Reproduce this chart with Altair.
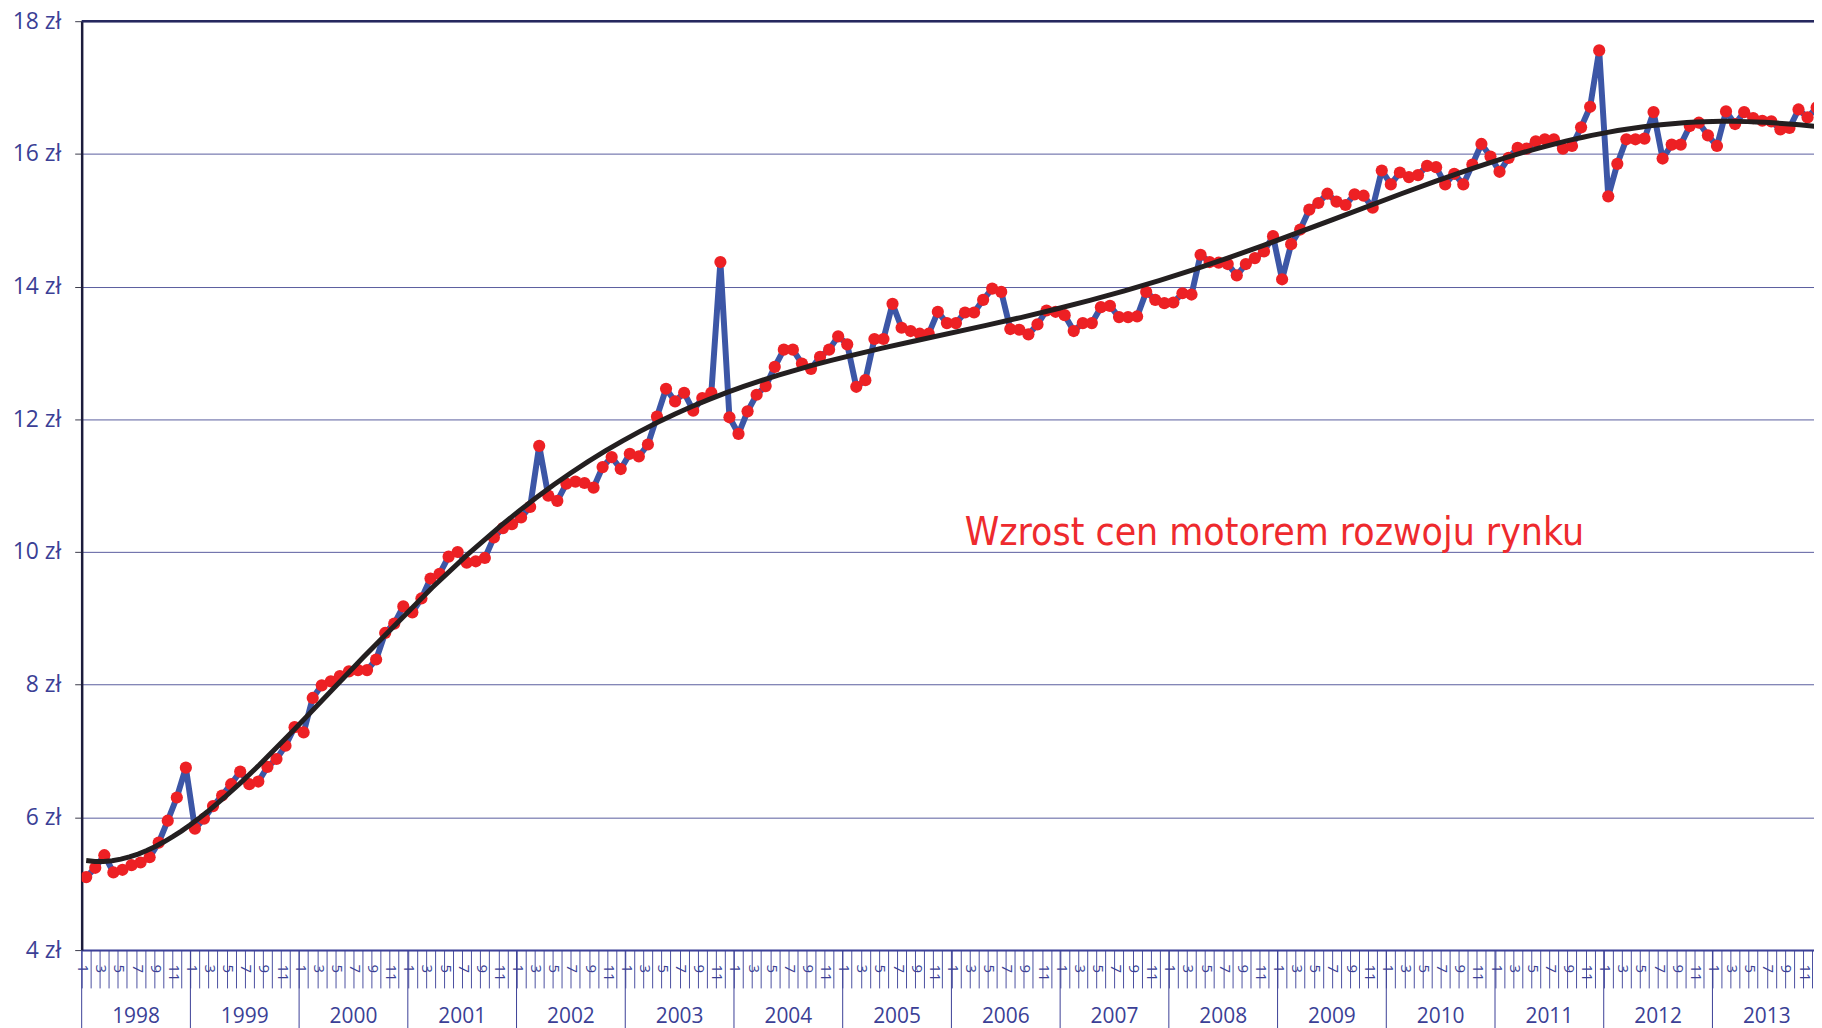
import altair as alt
import pandas as pd

# Monthly average prices (zł), Jan..Dec for each year
years = list(range(1998, 2014))
p1998 = [5.10, 5.24, 5.43, 5.17, 5.21, 5.28, 5.32, 5.40, 5.62, 5.95, 6.30, 6.75]
p1999 = [5.83, 5.98, 6.17, 6.33, 6.50, 6.69, 6.50, 6.54, 6.76, 6.88, 7.08, 7.36]
p2000 = [7.28, 7.80, 7.99, 8.05, 8.13, 8.20, 8.22, 8.22, 8.38, 8.78, 8.92, 9.18]
p2001 = [9.09, 9.30, 9.60, 9.67, 9.93, 10.00, 9.84, 9.86, 9.91, 10.22, 10.36, 10.42]
p2002 = [10.52, 10.68, 11.60, 10.85, 10.77, 11.03, 11.06, 11.04, 10.97, 11.28, 11.43, 11.25]
p2003 = [11.48, 11.44, 11.62, 12.04, 12.46, 12.27, 12.40, 12.13, 12.32, 12.40, 14.37, 12.03]
p2004 = [11.78, 12.12, 12.37, 12.50, 12.79, 13.05, 13.05, 12.84, 12.76, 12.94, 13.05, 13.25]
p2005 = [13.13, 12.49, 12.59, 13.21, 13.21, 13.74, 13.38, 13.33, 13.29, 13.29, 13.62, 13.45]
p2006 = [13.45, 13.61, 13.61, 13.80, 13.97, 13.92, 13.36, 13.35, 13.28, 13.43, 13.64, 13.62]
p2007 = [13.57, 13.33, 13.45, 13.45, 13.69, 13.71, 13.54, 13.54, 13.55, 13.92, 13.80, 13.75]
p2008 = [13.76, 13.90, 13.88, 14.48, 14.37, 14.36, 14.34, 14.17, 14.34, 14.43, 14.53, 14.76]
p2009 = [14.11, 14.64, 14.86, 15.16, 15.26, 15.40, 15.28, 15.23, 15.39, 15.37, 15.19, 15.75]
p2010 = [15.54, 15.72, 15.65, 15.68, 15.82, 15.80, 15.54, 15.70, 15.54, 15.84, 16.15, 15.96]
p2011 = [15.73, 15.94, 16.09, 16.08, 16.19, 16.22, 16.22, 16.08, 16.12, 16.40, 16.71, 17.56]
p2012 = [15.36, 15.85, 16.22, 16.22, 16.23, 16.63, 15.93, 16.14, 16.14, 16.42, 16.47, 16.28]
p2013 = [16.12, 16.64, 16.45, 16.63, 16.54, 16.50, 16.49, 16.37, 16.39, 16.67, 16.55, 16.70]
prices = [p1998, p1999, p2000, p2001, p2002, p2003, p2004, p2005,
          p2006, p2007, p2008, p2009, p2010, p2011, p2012, p2013]

y_ticks = [4, 6, 8, 10, 12, 14, 16, 18]
annotation = "Wzrost cen motorem rozwoju rynku"

rows = []
for yi, vals in enumerate(prices):
    for m, v in enumerate(vals):
        rows.append({"t": yi * 12 + m + 0.5, "price": v})
df = pd.DataFrame(rows)

n_months = 12 * len(years)
month_ticks = list(range(0, n_months))
df_year = pd.DataFrame({
    "t": [12 * k for k in range(len(years))],
    "mid": [12 * k + 6 for k in range(len(years))],
    "label": [str(y) for y in years],
})

NAVY = "#3b3f96"
FONT = "Open Sans"
xscale = alt.Scale(domain=[0, 191.21], nice=False, zero=False)
yscale = alt.Scale(domain=[4, 18], nice=False, zero=False)

x_axis = alt.Axis(
    values=month_ticks, title=None, grid=False,
    tickSize=38, tickColor="#4b50a0", tickWidth=1,
    domainColor=NAVY, domainWidth=2,
    labelExpr="datum.value % 2 == 0 ? '' + (datum.value % 12 + 1) : ''",
    labelAngle=90, labelAlign="left", labelBaseline="middle",
    labelPadding=-24, labelOffset=1, labelFontSize=15, labelColor=NAVY,
    labelFont=FONT, labelOverlap=False, labelFlush=False, labelBound=False,
)
y_axis = alt.Axis(
    values=y_ticks, title=None, labelExpr="datum.value + ' zł'",
    grid=True, gridColor="#5a5d9e", gridWidth=1,
    tickSize=7, tickColor="#3a3a4a", tickWidth=1,
    domainColor="#1c1c3c", domainWidth=2.5,
    labelFontSize=23, labelColor=NAVY, labelFont=FONT, labelPadding=14,
)
X = alt.X("t:Q", scale=xscale, axis=x_axis)
Y = alt.Y("price:Q", scale=yscale, axis=y_axis)

base = alt.Chart(df)

line = base.mark_line(color="#3c56a6", strokeWidth=6, strokeJoin="round", clip=True).encode(x=X, y=Y)
points = base.mark_circle(color="#ed2024", size=150, opacity=1, clip=True).encode(x=X, y=Y)
trend = base.transform_regression("t", "price", method="poly", order=6).mark_line(
    color="#231f20", strokeWidth=5, clip=True
).encode(x=X, y=Y)
top_border = alt.Chart(pd.DataFrame({"price": [18]})).mark_rule(
    color="#26285e", strokeWidth=2.5
).encode(y=Y)

year_sep = alt.Chart(df_year).mark_rule(color=NAVY, strokeWidth=1).encode(
    x=X, y=alt.value(933), y2=alt.value(1012),
)
year_lab = alt.Chart(df_year).mark_text(
    fontSize=21, color=NAVY, font=FONT, baseline="middle", align="center"
).encode(
    x=alt.X("mid:Q", scale=xscale, axis=x_axis),
    y=alt.value(1000),
    text="label:N",
)
note = alt.Chart(pd.DataFrame({"txt": [annotation]})).mark_text(
    fontSize=39, color="#ee2a2e",
    font="'Liberation Sans Narrow', 'DejaVu Sans Condensed', Roboto, sans-serif",
    align="left", baseline="alphabetic",
).encode(x=alt.value(887), y=alt.value(526), text="txt:N")

chart = alt.layer(
    line, points, trend, top_border, year_sep, year_lab, note
).properties(
    width=1740, height=933,
    autosize=alt.AutoSizeParams(type="none"),
    padding={"left": 74, "top": 11, "right": 0, "bottom": 76},
).configure_view(stroke=None)

chart.save("out.html", embed_options={"renderer": "svg", "actions": False})
